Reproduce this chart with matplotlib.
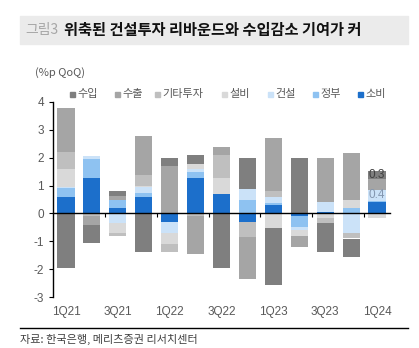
import numpy as np
import matplotlib
matplotlib.use("Agg")
import matplotlib.pyplot as plt

plt.rcParams['font.family'] = ['Noto Sans CJK KR', 'DejaVu Sans']

# data (contribution to QoQ growth, %p)
quarters = ['1Q21', '2Q21', '3Q21', '4Q21', '1Q22', '2Q22', '3Q22',
            '4Q22', '1Q23', '2Q23', '3Q23', '4Q23', '1Q24']
consumption = [0.6, 1.27, 0.2, 0.6, -0.32, 1.27, 0.68, -0.32, 0.29, -0.08, 0.05, 0.0, 0.4]
government = [0.3, 0.69, 0.3, 0.15, 0.0, 0.21, 0.0, 0.48, 0.07, -0.4, 0.0, 0.2, 0.05]
construction = [0.05, 0.1, -0.33, 0.2, -0.37, 0.1, 0.0, 0.39, 0.24, -0.12, 0.35, -0.69, 0.4]
facilities = [0.65, 0.0, -0.36, 0.02, -0.4, 0.2, 0.6, 0.0, -0.51, -0.22, -0.15, 0.27, -0.15]
other_inv = [0.6, -0.1, -0.12, 0.4, -0.3, -0.1, 0.81, -0.51, 0.22, 0.0, -0.18, -0.21, 0.0]
exports = [1.57, -0.32, 0.12, 1.4, 1.7, -1.37, 0.3, -1.52, 1.88, -0.38, 1.6, 1.69, 0.38]
imports = [-1.96, -0.65, 0.17, -1.39, 0.29, 0.3, -1.96, 1.12, -2.07, 1.99, -1.06, -0.65, 0.3]

names = ['소비', '정부', '건설', '설비', '기타투자', '수출', '수입']
series = [consumption, government, construction, facilities, other_inv, exports, imports]
colors = ['#1C6FCB', '#8EC2F1', '#CBE2F8', '#D9D9D9', '#BFBFBF', '#A5A5A5', '#7F7F7F']

num_font = ['Liberation Sans', 'DejaVu Sans']

fig = plt.figure(figsize=(4.19, 3.48), dpi=100)
ax = fig.add_axes([53/419, 1-297/348, 337/419, 195/348])

x = np.arange(len(quarters))
pos_b = np.zeros(len(x))
neg_b = np.zeros(len(x))
tops = {}
for name, vals, c in zip(names, series, colors):
    v = np.array(vals)
    bottom = np.where(v >= 0, pos_b, neg_b)
    ax.bar(x, v, 0.66, bottom=bottom, color=c, linewidth=0)
    tops[name] = (bottom, v)
    pos_b = pos_b + np.where(v > 0, v, 0)
    neg_b = neg_b + np.where(v < 0, v, 0)

# data labels on last quarter
b, v = tops['건설']
ax.text(x[-1], b[-1] + v[-1]/2, '%.1f' % v[-1], ha='center', va='center',
        fontsize=8.5, color='#8497B0', family=num_font)
b, v = tops['수입']
ax.text(x[-1], b[-1] + v[-1]/2, '%.1f' % v[-1], ha='center', va='center',
        fontsize=8.5, color='#404040', family=num_font)

ax.set_xlim(-0.5, 12.5)
ax.set_ylim(-3, 4)
ax.set_yticks(range(-3, 5))
ax.set_yticklabels([str(t) for t in range(-3, 5)], family=num_font)
ax.tick_params(axis='y', labelsize=8.5, labelcolor='#595959', length=3, width=0.8)
ax.spines['top'].set_visible(False)
ax.spines['right'].set_visible(False)
ax.spines['left'].set_linewidth(1.0)
ax.spines['bottom'].set_position(('data', 0))
ax.spines['bottom'].set_linewidth(1.0)
ax.set_xticks(np.arange(1.5, 12, 2))
ax.set_xticklabels([])
ax.tick_params(axis='x', direction='out', length=3, width=0.8)
for i in range(0, len(quarters), 2):
    ax.text(x[i], -3.55, quarters[i], ha='center', va='center',
            fontsize=8.5, color='#595959', family=num_font)

# title band
fig.patches.append(plt.Rectangle((20/419, 1-44/348), 388/419, 28/348,
                                 transform=fig.transFigure, color='#EBEBEB', zorder=0))
fig.text(25/419, 1-30/348, '그림3', fontsize=10, color='#A6A6A6', va='center')
fig.text(64/419, 1-30/348, '위축된 건설투자 리바운드와 수입감소 기여가 커',
         fontsize=11, fontweight='bold', color='#111111', va='center')

fig.text(35/419, 1-73/348, '(%p QoQ)', fontsize=8, color='#595959', va='center')

# legend
leg_x = [70, 115, 155, 222, 268, 313, 358]
for lx, name, c in zip(leg_x, names[::-1], colors[::-1]):
    fig.patches.append(plt.Rectangle((lx/419, 1-97/348), 5/419, 5/348,
                                     transform=fig.transFigure, color=c))
    fig.text((lx+7)/419, 1-94/348, name, fontsize=8, color='#595959', va='center')

# source
fig.add_artist(plt.Line2D([20/419, 408/419], [1-328/348, 1-328/348],
                          transform=fig.transFigure, color='black', linewidth=1))
fig.text(20/419, 1-339/348, '자료: 한국은행, 메리츠증권 리서치센터', fontsize=8,
         color='#404040', va='center')

plt.savefig('out.png', dpi=100)
